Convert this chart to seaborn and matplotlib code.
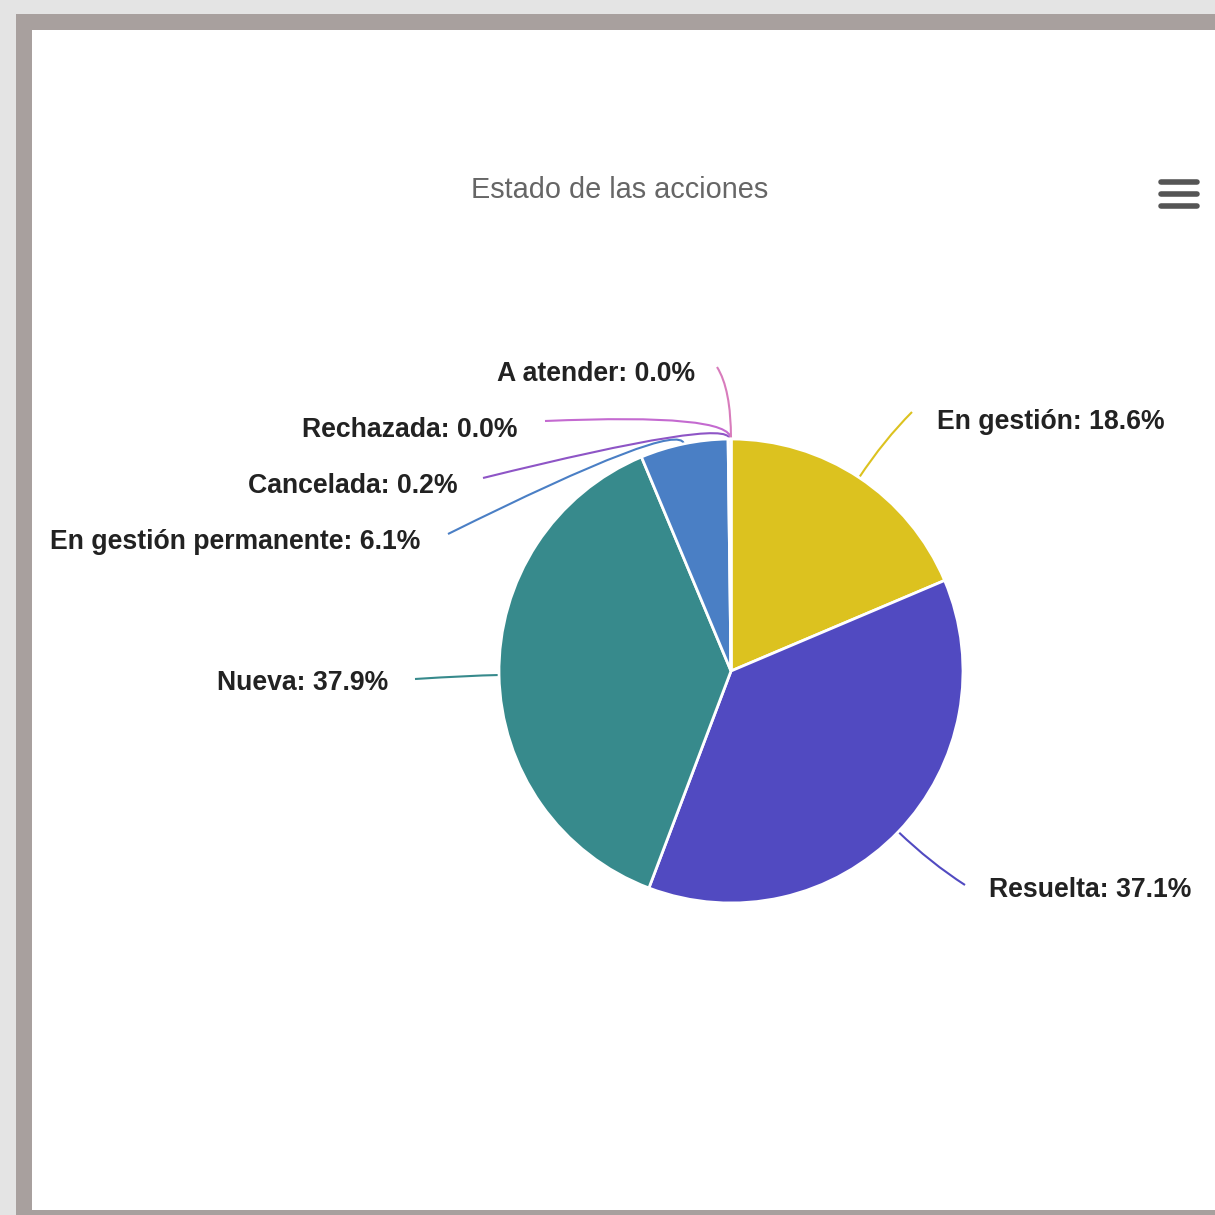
import numpy as np
import matplotlib
matplotlib.use("Agg")
import matplotlib.pyplot as plt
from matplotlib.patches import Rectangle, PathPatch
from matplotlib.path import Path
import seaborn as sns

# ---- data ----
categories = ["En gestión", "Resuelta", "Nueva", "En gestión permanente",
              "Cancelada", "Rechazada", "A atender"]
values = [18.6, 37.1, 37.9, 6.1, 0.2, 0.0, 0.0]
slice_colors = ["#dcc21f", "#514ac1", "#378a8c", "#4a7fc5",
                "#8e55c6", "#c46ad0", "#d87cbc"]
title = "Estado de las acciones"

sns.set_theme(style="white")
plt.rcParams['font.family'] = ['Liberation Sans', 'DejaVu Sans']

W = 1215
fig = plt.figure(figsize=(12.15, 12.15), dpi=100, facecolor="#e4e4e4")
ax = fig.add_axes([0, 0, 1, 1])

def Y(y):
    return W - y

# frame
ax.add_patch(Rectangle((16, Y(W + 10)), 1300, (W + 10) - 14, facecolor="#a8a09e",
                       edgecolor="none", zorder=0))
ax.add_patch(Rectangle((32, Y(1210)), 1300, 1210 - 30, facecolor="white",
                       edgecolor="none", zorder=0.5))

cx, cy, R = 731, 671, 232
palette = sns.color_palette(slice_colors)
wedges, _ = ax.pie(values, colors=palette, startangle=90, counterclock=False,
                   center=(cx, Y(cy)), radius=R,
                   wedgeprops=dict(edgecolor="white", linewidth=2))
for w in wedges:
    w.set_zorder(2)

# label layout: (x, y, ha)
layout = {
    "En gestión": (937, 422, "left"),
    "Resuelta": (989, 890, "left"),
    "Nueva": (388, 683, "right"),
    "En gestión permanente": (420, 542, "right"),
    "Cancelada": (458, 486, "right"),
    "Rechazada": (518, 430, "right"),
    "A atender": (695, 374, "right"),
}
conn_end = {
    "En gestión": (912, 412),
    "Resuelta": (965, 885),
    "Nueva": (415, 679),
    "En gestión permanente": (448, 534),
    "Cancelada": (483, 478),
    "Rechazada": (545, 421),
    "A atender": (717, 367),
}
ctrl_extra = {
    "En gestión": 45, "Resuelta": 45, "Nueva": 30,
    "En gestión permanente": 25, "Cancelada": 22, "Rechazada": 26, "A atender": 50,
}

total = sum(values)
cum = 0.0
for name, v, col in zip(categories, values, slice_colors):
    mid = (cum + v / 2) / total * 2 * np.pi
    cum += v
    sx, sy = cx + R * np.sin(mid), cy - R * np.cos(mid)
    d = ctrl_extra[name]
    kx, ky = cx + (R + d) * np.sin(mid), cy - (R + d) * np.cos(mid)
    ex, ey = conn_end[name]
    path = Path([(sx, Y(sy)), (kx, Y(ky)), (ex, Y(ey))],
                [Path.MOVETO, Path.CURVE3, Path.CURVE3])
    ax.add_patch(PathPatch(path, facecolor="none", edgecolor=col, lw=1.5, zorder=1.5))
    lx, ly, ha = layout[name]
    ax.text(lx, Y(ly), f"{name}: {v:.1f}%", ha=ha, va="center",
            fontsize=19.2, fontweight="bold", color="#222222", zorder=3)

ax.text(620, Y(190), title, ha="center", va="center", fontsize=20.8,
        color="#666666", zorder=3)

# menu icon
for yy in (182, 194, 206):
    ax.plot([1161, 1197], [Y(yy), Y(yy)], color="#555555", lw=4,
            solid_capstyle="round", zorder=3)

ax.set_xlim(0, W)
ax.set_ylim(0, W)
ax.set_aspect("equal")
ax.axis("off")

fig.savefig("out.png", dpi=100, facecolor=fig.get_facecolor())
